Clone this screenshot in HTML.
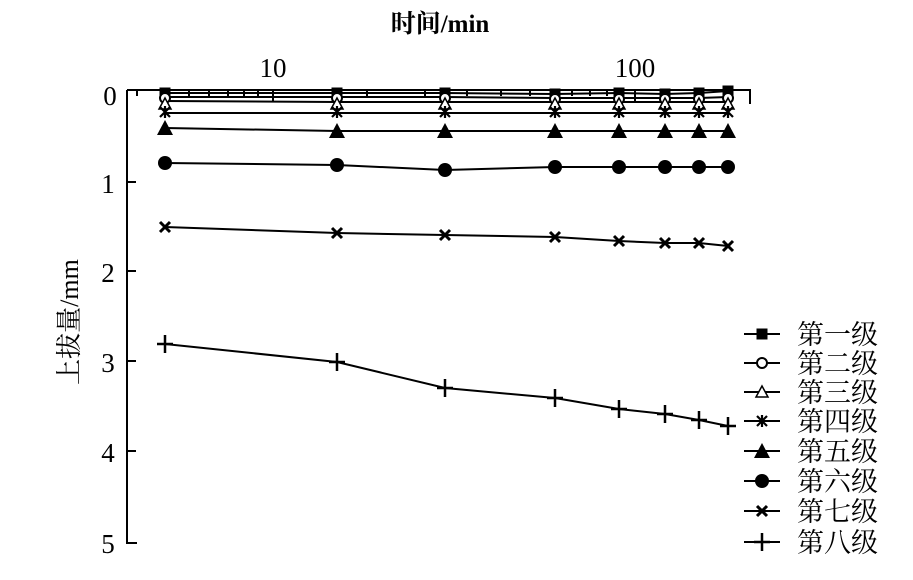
<!DOCTYPE html>
<html><head><meta charset="utf-8"><style>
html,body{margin:0;padding:0;background:#fff;}
svg{display:block;}
text{font-family:"Liberation Serif","Noto Serif CJK SC",serif;fill:#000;}
</style></head><body>
<svg width="913" height="580" viewBox="0 0 913 580" xmlns="http://www.w3.org/2000/svg">
<defs>
<g id="sq"><rect x="-5.5" y="-5.5" width="11" height="11" fill="#000"/></g>
<g id="oc"><circle r="5" fill="#fff" stroke="#000" stroke-width="2"/></g>
<g id="ot"><path d="M0,-6 L6,5 L-6,5Z" fill="#fff" stroke="#000" stroke-width="1.5"/></g>
<g id="st"><path d="M-5,-5L5,5M-5,5L5,-5M0,-6V6" stroke="#000" stroke-width="2.2"/></g>
<g id="ft"><path d="M0,-8 L8,7 L-8,7Z" fill="#000"/></g>
<g id="fc"><circle r="7" fill="#000"/></g>
<g id="xx"><path d="M-5,-5L5,5M-5,5L5,-5" stroke="#000" stroke-width="3"/></g>
<g id="pl"><path d="M-8,0H8M0,-9V9" stroke="#000" stroke-width="2.5"/></g>
</defs>
<text x="440" y="32" font-size="25" font-weight="bold" text-anchor="middle">时间/min</text>
<text x="273" y="77" font-size="27" text-anchor="middle">10</text>
<text x="635" y="77" font-size="27" text-anchor="middle">100</text>
<g stroke="#000" stroke-width="2" fill="none">
<path d="M127,90 H750 V104"/>
<path d="M127,90 V543 H137"/>
<path d="M127,182h9M127,271h9M127,361h9M127,451h9"/>
<path d="M137,90v6M189,90v6M209,90v6M228,90v6M244,90v6M258,90v6M273,90v12M367,90v6M425,90v6M467,90v6M501,90v6M530,90v6M572,90v6M590,90v6M607,90v6M621,90v6M635,90v12M700,90v6"/>
</g>
<g font-size="27" text-anchor="middle">
<text x="110" y="105">0</text>
<text x="108" y="193">1</text>
<text x="108" y="282">2</text>
<text x="108" y="372">3</text>
<text x="108" y="462">4</text>
<text x="108" y="553">5</text>
</g>
<text transform="translate(78,322) rotate(-90)" font-size="26" text-anchor="middle">上拔量/mm</text>
<g stroke="#000" stroke-width="2" fill="none">
<polyline points="165,93 337,93 445,93 555,94 619,93 665,94 699,93 728,91"/>
<polyline points="165,97 337,97 445,97 555,98 619,98 665,98 699,98 728,97"/>
<polyline points="165,101 337,102 445,102 555,102 619,102 665,102 699,102 728,102"/>
<polyline points="165,113 337,113 445,113 555,113 619,113 665,113 699,113 728,113"/>
<polyline points="165,128 337,131 445,131 555,131 619,131 665,131 699,131 728,131"/>
<polyline points="165,163 337,165 445,170 555,167 619,167 665,167 699,167 728,167"/>
<polyline points="165,227 337,233 445,235 555,237 619,241 665,243 699,243 728,246"/>
<polyline points="165,344 337,362 445,388 555,398 619,409 665,414 699,420 728,426"/>
</g>
<g>
<use href="#sq" x="165" y="93"/><use href="#sq" x="337" y="93"/><use href="#sq" x="445" y="93"/><use href="#sq" x="555" y="94"/><use href="#sq" x="619" y="93"/><use href="#sq" x="665" y="94"/><use href="#sq" x="699" y="93"/><use href="#sq" x="728" y="91"/>
<use href="#oc" x="165" y="98"/><use href="#oc" x="337" y="98"/><use href="#oc" x="445" y="98"/><use href="#oc" x="555" y="99"/><use href="#oc" x="619" y="99"/><use href="#oc" x="665" y="99"/><use href="#oc" x="699" y="99"/><use href="#oc" x="728" y="98"/>
<use href="#ot" x="165" y="104"/><use href="#ot" x="337" y="104"/><use href="#ot" x="445" y="104"/><use href="#ot" x="555" y="104"/><use href="#ot" x="619" y="104"/><use href="#ot" x="665" y="104"/><use href="#ot" x="699" y="104"/><use href="#ot" x="728" y="104"/>
<use href="#st" x="165" y="112"/><use href="#st" x="337" y="112"/><use href="#st" x="445" y="112"/><use href="#st" x="555" y="112"/><use href="#st" x="619" y="112"/><use href="#st" x="665" y="112"/><use href="#st" x="699" y="112"/><use href="#st" x="728" y="112"/>
<use href="#ft" x="165" y="128"/><use href="#ft" x="337" y="131"/><use href="#ft" x="445" y="131"/><use href="#ft" x="555" y="131"/><use href="#ft" x="619" y="131"/><use href="#ft" x="665" y="131"/><use href="#ft" x="699" y="131"/><use href="#ft" x="728" y="131"/>
<use href="#fc" x="165" y="163"/><use href="#fc" x="337" y="165"/><use href="#fc" x="445" y="170"/><use href="#fc" x="555" y="167"/><use href="#fc" x="619" y="167"/><use href="#fc" x="665" y="167"/><use href="#fc" x="699" y="167"/><use href="#fc" x="728" y="167"/>
<use href="#xx" x="165" y="227"/><use href="#xx" x="337" y="233"/><use href="#xx" x="445" y="235"/><use href="#xx" x="555" y="237"/><use href="#xx" x="619" y="241"/><use href="#xx" x="665" y="243"/><use href="#xx" x="699" y="243"/><use href="#xx" x="728" y="246"/>
<use href="#pl" x="165" y="344"/><use href="#pl" x="337" y="362"/><use href="#pl" x="445" y="388"/><use href="#pl" x="555" y="398"/><use href="#pl" x="619" y="409"/><use href="#pl" x="665" y="414"/><use href="#pl" x="699" y="420"/><use href="#pl" x="728" y="426"/>
</g>
<g stroke="#000" stroke-width="2">
<path d="M744,334h36M744,363h36M744,392h36M744,421h36M744,451h36M744,481h36M744,511h36M744,542h36"/>
</g>
<use href="#sq" x="762" y="334"/><use href="#oc" x="762" y="363"/><use href="#ot" x="762" y="392"/><use href="#st" x="762" y="421"/><use href="#ft" x="762" y="451"/><use href="#fc" x="762" y="481"/><use href="#xx" x="762" y="511"/><use href="#pl" x="762" y="542"/>
<g font-size="27">
<text x="797" y="344">第一级</text>
<text x="797" y="373">第二级</text>
<text x="797" y="402">第三级</text>
<text x="797" y="431">第四级</text>
<text x="797" y="461">第五级</text>
<text x="797" y="491">第六级</text>
<text x="797" y="521">第七级</text>
<text x="797" y="552">第八级</text>
</g>
</svg>
</body></html>
